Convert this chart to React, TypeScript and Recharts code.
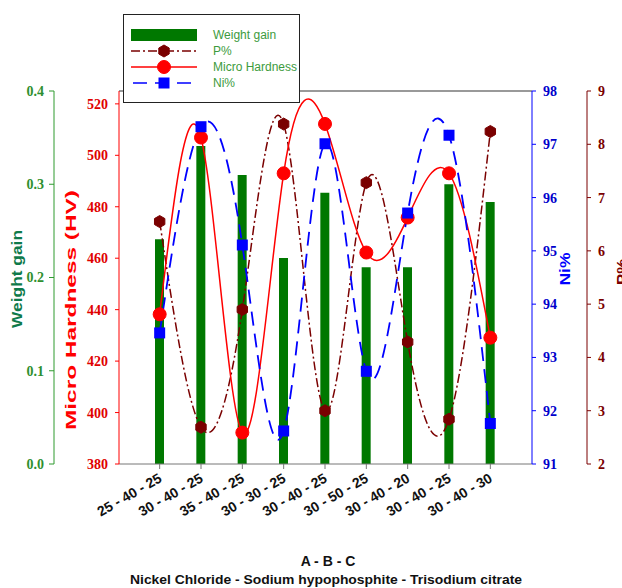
import { ComposedChart, Bar, Line, XAxis, YAxis, ReferenceLine, Legend } from 'recharts';

// bath composition A - B - C (g/L)
const conditions = [
  '25 - 40 - 25',
  '30 - 40 - 25',
  '35 - 40 - 25',
  '30 - 30 - 25',
  '30 - 40 - 25',
  '30 - 50 - 25',
  '30 - 40 - 20',
  '30 - 40 - 25',
  '30 - 40 - 30',
];
const weightGain = [0.241, 0.341, 0.31, 0.221, 0.291, 0.211, 0.211, 0.3, 0.281];
const microHardness = [438.2, 506.9, 392.2, 493.0, 512.2, 462.2, 475.8, 493.0, 429.1];
const nickelPct = [93.46, 97.33, 95.11, 91.62, 97.01, 92.74, 95.71, 97.17, 91.76];
const phosphorusPct = [6.55, 2.69, 4.9, 8.38, 3.0, 7.28, 4.29, 2.84, 8.24];

const wgTicks = [0, 0.1, 0.2, 0.3, 0.4];
const hvTicks = [380, 400, 420, 440, 460, 480, 500, 520];
const niTicks = [91, 92, 93, 94, 95, 96, 97, 98];
const pTicks = [2, 3, 4, 5, 6, 7, 8, 9];

const data = conditions.map((c, i) => ({
  idx: i,
  wg: weightGain[i],
  hv: microHardness[i],
  ni: nickelPct[i],
  p: phosphorusPct[i],
}));

const SERIF = '"Liberation Serif", "Times New Roman", serif';
const SANS = '"Liberation Sans", Arial, sans-serif';

const C = {
  bar: '#007800',
  wgAxis: '#2f9a2f',
  wgText: '#2f8f2f',
  wgTitle: '#0f7a4a',
  hv: '#ff0000',
  hvText: '#e00000',
  ni: '#0000ff',
  niText: '#0000cc',
  p: '#7a0000',
  frame: '#777777',
  legendText: '#3d9b3d',
};

const tickFont = (fill: string) => ({ fill, fontFamily: SERIF, fontWeight: 700, fontSize: 14 });

// rotated, stretched axis title (own coordinates, the axis viewBox is ignored)
const SideTitle = ({ px, py, len, text, fill, size = 14 }: any) => (
  <text
    x={px}
    y={py}
    transform={`rotate(-90, ${px}, ${py})`}
    textAnchor="middle"
    dominantBaseline="central"
    fontFamily={SANS}
    fontWeight={700}
    fontSize={size}
    fill={fill}
    textLength={len}
    lengthAdjust="spacingAndGlyphs"
  >
    {text}
  </text>
);

const BottomTitles = () => (
  <g fontFamily={SANS} fontWeight={700} fill="#111" textAnchor="middle">
    <text x={328} y={566} fontSize={14}>A - B - C</text>
    <text x={326} y={584} fontSize={13} textLength={392} lengthAdjust="spacingAndGlyphs">
      Nickel Chloride - Sodium hypophosphite - Trisodium citrate
    </text>
  </g>
);

const ConditionTick = ({ x, y, payload }: any) => (
  <text
    x={x + 3}
    y={y + 10}
    transform={`rotate(-30, ${x + 3}, ${y + 10})`}
    textAnchor="end"
    fontFamily={SANS}
    fontWeight={700}
    fontSize={14}
    fill="#111"
  >
    {conditions[payload.value]}
  </text>
);

const HexDot = ({ cx, cy }: any) => {
  if (cx == null || cy == null) return null;
  const r = 6;
  const pts = [0, 1, 2, 3, 4, 5]
    .map((k) => {
      const a = (Math.PI / 3) * k + Math.PI / 6;
      return `${cx + r * Math.cos(a)},${cy + r * Math.sin(a)}`;
    })
    .join(' ');
  return <polygon points={pts} fill={C.p} stroke={C.p} />;
};

const RoundDot = ({ cx, cy }: any) =>
  cx == null ? null : <circle cx={cx} cy={cy} r={6.5} fill={C.hv} stroke={C.hv} />;

const SquareDot = ({ cx, cy }: any) =>
  cx == null ? null : <rect x={cx - 5.5} y={cy - 5.5} width={11} height={11} fill={C.ni} />;

const LegendBox = () => {
  const rows = [
    { label: 'Weight gain', y: 20 },
    { label: 'P%', y: 36 },
    { label: 'Micro Hardness', y: 52 },
    { label: 'Ni%', y: 68 },
  ];
  return (
    <div style={{ width: 177, height: 89, border: '1px solid #222', background: '#fff', boxSizing: 'border-box' }}>
      <svg width={175} height={87}>
        <rect x={7} y={rows[0].y - 6} width={66} height={12} fill={C.bar} />
        <line x1={7} x2={73} y1={rows[1].y} y2={rows[1].y} stroke={C.p} strokeWidth={1.5} strokeDasharray="9 3 2 3" />
        <HexDot cx={40} cy={rows[1].y} />
        <line x1={7} x2={73} y1={rows[2].y} y2={rows[2].y} stroke={C.hv} strokeWidth={1.5} />
        <RoundDot cx={40} cy={rows[2].y} />
        <line x1={7} x2={73} y1={rows[3].y} y2={rows[3].y} stroke={C.ni} strokeWidth={1.5} strokeDasharray="14 8" strokeDashoffset={-2} />
        <SquareDot cx={40} cy={rows[3].y} />
        {rows.map((r) => (
          <text key={r.label} x={89} y={r.y} dominantBaseline="central" fontFamily={SANS} fontSize={12} fill={C.legendText}>
            {r.label}
          </text>
        ))}
      </svg>
    </div>
  );
};

export default function App() {
  return (
    <div style={{ position: 'absolute', left: 0, top: 0, width: 622, height: 588, background: '#fff' }}>
      <ComposedChart width={622} height={588} data={data} margin={{ top: 91, right: 0, bottom: 0, left: 0 }}>
        <XAxis
          dataKey="idx"
          type="category"
          xAxisId="x"
          padding={{ left: 20, right: 21 }}
          height={124}
          interval={0}
          stroke={C.frame}
          tickSize={5}
          tick={<ConditionTick />}
          label={<BottomTitles />}
        />
        <YAxis
          yAxisId="hv"
          orientation="left"
          width={65}
          domain={[380, 525]}
          ticks={hvTicks}
          interval={0}
          stroke={C.hv}
          tickSize={4}
          tickMargin={7}
          tick={tickFont(C.hvText)}
          label={<SideTitle px={70} py={310} len={240} size={15} text="Micro Hardness (HV)" fill={C.hv} />}
        />
        <YAxis
          yAxisId="wg"
          orientation="left"
          width={54}
          domain={[0, 0.4]}
          ticks={wgTicks}
          interval={0}
          stroke={C.wgAxis}
          tickSize={5}
          tickMargin={5}
          tickFormatter={(v: number) => v.toFixed(1)}
          tick={tickFont(C.wgText)}
          label={<SideTitle px={17} py={279} len={98} text="Weight gain" fill={C.wgTitle} />}
        />
        <YAxis
          yAxisId="ni"
          orientation="right"
          width={55}
          domain={[91, 98]}
          ticks={niTicks}
          interval={0}
          stroke={C.ni}
          tickSize={4}
          tickMargin={7}
          tick={tickFont(C.niText)}
          label={<SideTitle px={565} py={269} len={33} text="Ni%" fill={C.ni} />}
        />
        <YAxis
          yAxisId="p"
          orientation="right"
          width={35}
          domain={[2, 9]}
          ticks={pTicks}
          interval={0}
          stroke={C.p}
          tickSize={4}
          tickMargin={7}
          tick={tickFont(C.p)}
          label={<SideTitle px={622} py={272} len={26} text="P%" fill={C.p} />}
        />
        <ReferenceLine xAxisId="x" yAxisId="ni" y={98} stroke={C.frame} strokeWidth={1.5} />
        <Bar xAxisId="x" yAxisId="wg" dataKey="wg" name="Weight gain" barSize={9} fill={C.bar} isAnimationActive={false} />
        <Line
          xAxisId="x"
          yAxisId="p"
          dataKey="p"
          name="P%"
          type="natural"
          stroke={C.p}
          strokeWidth={1.5}
          strokeDasharray="9 3 2 3"
          dot={<HexDot />}
          activeDot={false}
          isAnimationActive={false}
        />
        <Line
          xAxisId="x"
          yAxisId="hv"
          dataKey="hv"
          name="Micro Hardness"
          type="natural"
          stroke={C.hv}
          strokeWidth={1.5}
          dot={<RoundDot />}
          activeDot={false}
          isAnimationActive={false}
        />
        <Line
          xAxisId="x"
          yAxisId="ni"
          dataKey="ni"
          name="Ni%"
          type="natural"
          stroke={C.ni}
          strokeWidth={1.8}
          strokeDasharray="14 8"
          dot={<SquareDot />}
          activeDot={false}
          isAnimationActive={false}
        />
        <Legend
          layout="vertical"
          align="center"
          verticalAlign="middle"
          content={<LegendBox />}
          wrapperStyle={{ left: 123, top: 14, width: 177, height: 89 }}
        />
      </ComposedChart>
    </div>
  );
}
